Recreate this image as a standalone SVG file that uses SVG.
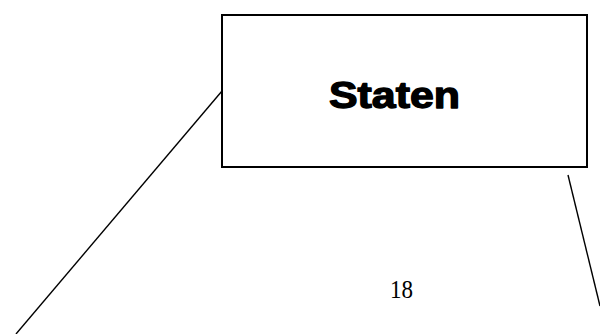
<svg xmlns="http://www.w3.org/2000/svg" width="600" height="334" viewBox="0 0 600 334">
  <style>
    .box { fill: #fff; stroke: #000; stroke-width: 2; }
    .title { font-family: "Liberation Sans", Arial, sans-serif; font-weight: bold; font-size: 36px; fill: #000; stroke: #000; stroke-width: 1.3; stroke-linejoin: round; }
    .page { font-family: "Liberation Serif", "Times New Roman", serif; font-size: 25px; fill: #000; }
    .link { stroke: #000; stroke-width: 1.4; fill: none; }
  </style>
  <rect width="600" height="334" fill="#fff"/>
  <g id="connectors">
    <line class="link" x1="222" y1="91" x2="16" y2="334"/>
    <line class="link" x1="568" y1="175" x2="600" y2="306"/>
  </g>
  <g id="staten">
    <rect class="box" x="222" y="15" width="365" height="152"/>
    <text class="title" x="329" y="107.5" textLength="131" lengthAdjust="spacingAndGlyphs">Staten</text>
  </g>
  <text class="page" x="390" y="297.5" textLength="23" lengthAdjust="spacingAndGlyphs">18</text>
</svg>
